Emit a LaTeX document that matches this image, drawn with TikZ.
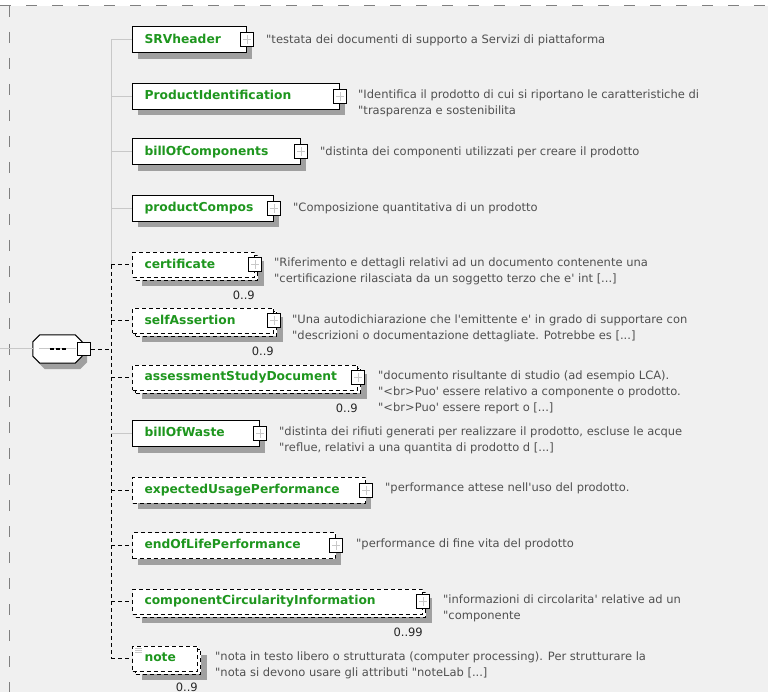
\documentclass[tikz,border=0pt]{standalone}
\usepackage{fontspec}
\usetikzlibrary{shadows,positioning}
\newfontfamily\elemfont{DejaVu Sans}
\newfontfamily\descfont[Ligatures=TeXOff]{DejaVu Sans}

\definecolor{bggray}{RGB}{240,240,240}
\definecolor{shadowgray}{RGB}{160,160,160}
\definecolor{linegray}{RGB}{200,200,200}
\definecolor{framegray}{RGB}{128,128,128}
\definecolor{elemgreen}{RGB}{30,150,30}
\definecolor{descgray}{RGB}{80,80,80}

\tikzset{
  elembase/.style={draw=black, fill=white, line width=1pt, anchor=west,
    inner xsep=12pt, inner ysep=0pt, text width=#1, align=left,
    text height=9pt, text depth=2.5pt,
    font=\elemfont\bfseries\fontsize{12.3}{14}\selectfont, text=elemgreen},
  reqbox/.style={elembase=#1, minimum height=26pt,
    general shadow={fill=shadowgray, shadow xshift=5pt, shadow yshift=-6pt}},
  optbox/.style={elembase=#1, minimum height=26pt, dash pattern=on 4pt off 3pt,
    general shadow={fill=shadowgray, shadow xshift=5pt, shadow yshift=-6pt}},
  multibox/.style={elembase=#1, minimum height=25pt, dash pattern=on 4pt off 3pt,
    general shadow={fill=shadowgray, shadow xshift=9pt, shadow yshift=-9pt},
    general shadow={fill=white, draw=black, line width=1pt,
      dash pattern=on 4pt off 3pt, shadow xshift=3pt, shadow yshift=-3pt}},
  plusbox/.style={draw=black, fill=white, line width=1pt, solid,
    minimum width=13pt, minimum height=14pt, inner sep=0pt,
    path picture={\draw[linegray, line width=1pt]
      ([yshift=-2.5pt]path picture bounding box.north) -- ([yshift=2.5pt]path picture bounding box.south)
      ([xshift=2.5pt]path picture bounding box.west) -- ([xshift=-2.5pt]path picture bounding box.east);}},
  seqshape/.style={rectangle, inner sep=0pt, minimum width=49pt, minimum height=28pt},
  seqoutline/.style={insert path={
    ([xshift=7pt]#1.north west) -- ([xshift=-7pt]#1.north east) -- ([yshift=-7pt]#1.north east)
    -- ([yshift=7pt]#1.south east) -- ([xshift=-7pt]#1.south east) -- ([xshift=7pt]#1.south west)
    -- ([yshift=7pt]#1.south west) -- ([yshift=-7pt]#1.north west) -- cycle}},
  seqport/.style={draw=black, fill=white, line width=1pt, minimum size=13pt, inner sep=0pt},
  reqline/.style={linegray, line width=1pt},
  optline/.style={black, line width=1pt, dash pattern=on 4pt off 3pt},
  frameline/.style={framegray, line width=1pt, dash pattern=on 11pt off 15pt},
  desc/.style={anchor=west, inner sep=0pt, align=left, text=descgray,
    font=\descfont\fontsize{11.5}{16}\selectfont},
  occ/.style={inner sep=0pt, text=black!85, font=\descfont\fontsize{11.5}{14}\selectfont}
}

\begin{document}
\begin{tikzpicture}[x=1pt,y=-1pt]
\useasboundingbox (0,0) rectangle (768,700);
\fill[bggray] (0,6) rectangle (768,692);
\draw[frameline] (0,6) -- (768,6);
\draw[frameline] (9,6) -- (9,692);

% sequence compositor
\node[seqshape] (seq) at (57.5,349) {};
\fill[shadowgray, transform canvas={xshift=5pt,yshift=-6pt}, seqoutline=seq];
\draw[black, line width=1pt, fill=white, seqoutline=seq];
\draw[reqline] ([xshift=6pt]seq.west) -- ([xshift=-6pt]seq.east);
\foreach \d in {-8,-2,4}
  \draw[black, line width=1.5pt] ([xshift=\d pt]seq.center) -- ++(4,0);
\node[seqport] (seqport) at (84,349.5) {};
\coordinate (entry) at (0,349);
\draw[reqline] (entry) -- (seq.west);

% child elements
\node[reqbox=90pt] (srv) at (132,40) {SRVheader};
\node[reqbox=183pt] (pid) at (132,96.5) {ProductIdentification};
\node[reqbox=144pt] (boc) at (132,152) {billOfComponents};
\node[reqbox=117pt] (pc) at (132,208.5) {productCompos};
\node[multibox=98pt] (cert) at (132,265) {certificate};
\node[multibox=117pt] (sa) at (132,321) {selfAssertion};
\node[multibox=201pt] (asd) at (132,377.5) {assessmentStudyDocument};
\node[reqbox=103pt] (bow) at (132,433.5) {billOfWaste};
\node[optbox=209pt] (eup) at (132,490) {expectedUsagePerformance};
\node[optbox=179pt] (eol) at (132,545.5) {endOfLifePerformance};
\node[multibox=266pt] (cci) at (132,601.5) {componentCircularityInformation};
\node[multibox=41pt] (note) at (132,658.5) {note};

\foreach \e in {srv,pid,boc,pc,cert,sa,asd,bow,eup,eol,cci}
  \node[plusbox] (\e-plus) at (\e.east) {};
% text content mark
\foreach \i in {3,5,7}
  \draw[linegray] ([shift={(3,\i)}]note.north west) -- ++(7,0);

% bus
\coordinate (bustop) at (111,40);
\coordinate (busopt) at (111,265);
\coordinate (busend) at (111,658.5);
\draw[reqline] (bustop) -- (busopt);
\draw[optline] (busopt) -- (busend);
\draw[optline] (seqport.east) -- (seqport.east -| bustop);
\foreach \e in {srv,pid,boc,pc,bow}
  \draw[reqline] (bustop |- \e.west) -- (\e.west);
\foreach \e in {cert,sa,asd,eup,eol,cci,note}
  \draw[optline] (bustop |- \e.west) -- (\e.west);

% occurrences
\node[occ, below left=13pt and 0pt of cert.south east] (cert-occ) {0..9};
\node[occ, below left=13pt and 0pt of sa.south east] (sa-occ) {0..9};
\node[occ, below left=13pt and 0pt of asd.south east] (asd-occ) {0..9};
\node[occ, below left=13pt and 0pt of cci.south east] (cci-occ) {0..99};
\node[occ, below left=11pt and 0pt of note.south east] (note-occ) {0..9};

% annotations
\node[desc] (srv-desc) at (266,40) {"testata dei documenti di supporto a Servizi di piattaforma};
\node[desc] (pid-desc) at (358,103) {"Identifica il prodotto di cui si riportano le caratteristiche di\\"trasparenza e sostenibilita};
\node[desc] (boc-desc) at (320,152) {"distinta dei componenti utilizzati per creare il prodotto};
\node[desc] (pc-desc) at (293,208) {"Composizione quantitativa di un prodotto};
\node[desc] (cert-desc) at (274,271) {"Riferimento e dettagli relativi ad un documento contenente una\\"certificazione rilasciata da un soggetto terzo che e' int [...]};
\node[desc] (sa-desc) at (292,328) {"Una autodichiarazione che l'emittente e' in grado di supportare con\\"descrizioni o documentazione dettagliate. Potrebbe es [...]};
\node[desc] (asd-desc) at (378,392.5) {"documento risultante di studio (ad esempio LCA).\\"<br>Puo' essere relativo a componente o prodotto.\\"<br>Puo' essere report o [...]};
\node[desc] (bow-desc) at (279,440) {"distinta dei rifiuti generati per realizzare il prodotto, escluse le acque\\"reflue, relativi a una quantita di prodotto d [...]};
\node[desc] (eup-desc) at (385,488) {"performance attese nell'uso del prodotto.};
\node[desc] (eol-desc) at (356,544) {"performance di fine vita del prodotto};
\node[desc] (cci-desc) at (443,608) {"informazioni di circolarita' relative ad un\\"componente};
\node[desc] (note-desc) at (215,665) {"nota in testo libero o strutturata (computer processing). Per strutturare la\\"nota si devono usare gli attributi "noteLab [...]};
\end{tikzpicture}
\end{document}
